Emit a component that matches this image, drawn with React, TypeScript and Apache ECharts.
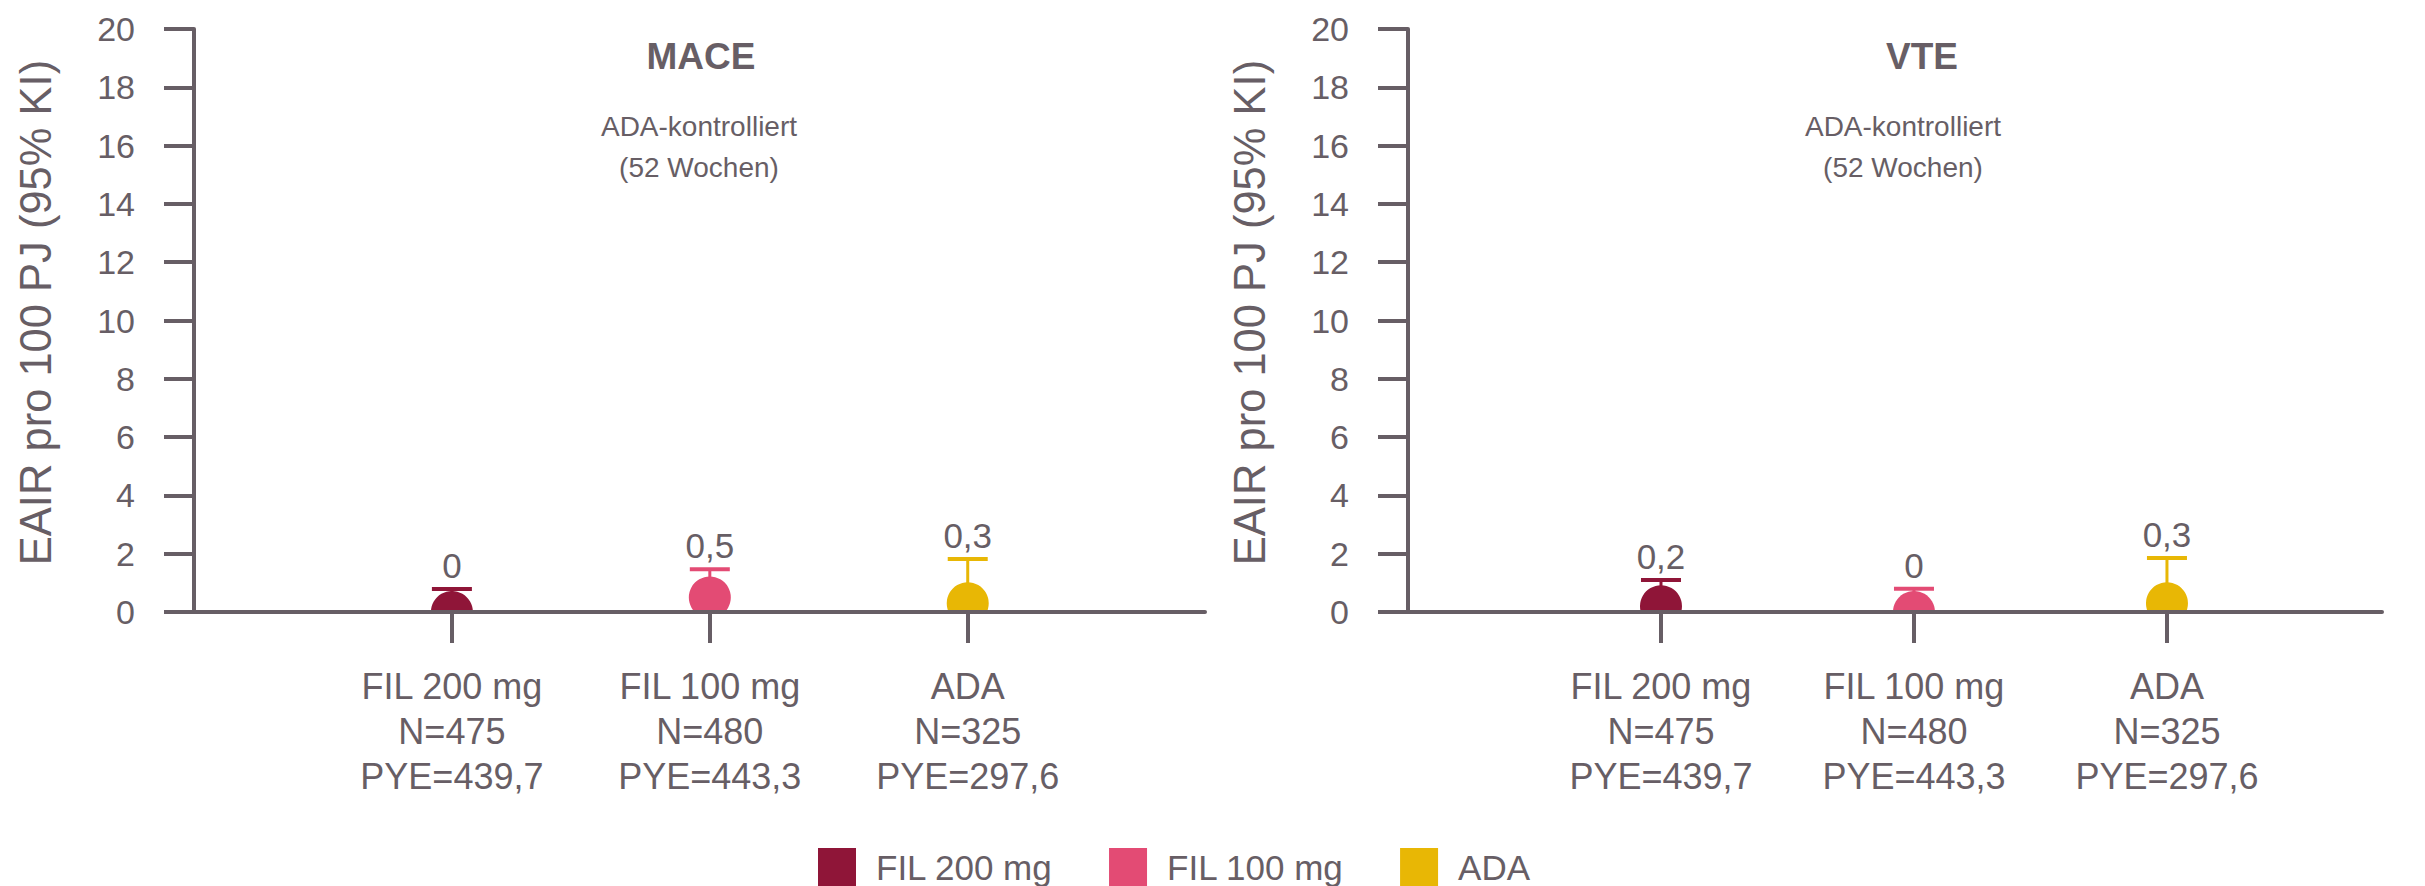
import React, { useEffect, useRef } from "react";
import * as echarts from "echarts";

// ---- data ----
const categories = ["FIL 200 mg", "FIL 100 mg", "ADA"];
const nValues = ["475", "480", "325"];
const pyeValues = ["439,7", "443,3", "297,6"];
const catPositions = [1, 2, 3];
const seriesColors = ["#8f1538", "#e34b74", "#e8b705"];

const maceRates = [0, 0.5, 0.3];
const maceUpper = [0.79, 1.47, 1.82];
const vteRates = [0.2, 0, 0.3];
const vteUpper = [1.1, 0.8, 1.85];

const yMin = 0;
const yMax = 20;
const yInterval = 2;

const panelTitles = ["MACE", "VTE"];
const panelSubtitle = "ADA-kontrolliert\n(52 Wochen)";
const yAxisTitle = "EAIR pro 100 PJ (95% KI)";

const GREY = "#675e65";
const FONT = "'Liberation Sans', Arial, sans-serif";

const fmt = (v: number) => String(v).replace(".", ",");

export default function App() {
  const ref = useRef<HTMLDivElement>(null);

  useEffect(() => {
    if (!ref.current) return;
    const chart = echarts.init(ref.current, null, { renderer: "svg" });

    const renderItem = (params: any, api: any) => {
      const x = api.value(0);
      const v = api.value(1);
      const hi = api.value(2);
      const c = api.coord([x, v]);
      const t = api.coord([x, hi]);
      const color = api.visual("color");
      return {
        type: "group",
        children: [
          {
            type: "line",
            shape: { x1: c[0], y1: c[1], x2: c[0], y2: t[1] },
            style: { stroke: color, lineWidth: 3 },
          },
          {
            type: "line",
            shape: { x1: c[0] - 20, y1: t[1], x2: c[0] + 20, y2: t[1] },
            style: { stroke: color, lineWidth: 4 },
          },
          {
            type: "circle",
            shape: { cx: c[0], cy: c[1], r: 21 },
            style: { fill: color },
          },
          {
            type: "text",
            x: c[0],
            y: t[1] - 6,
            style: {
              text: fmt(v),
              fill: GREY,
              fontSize: 35,
              fontFamily: FONT,
              align: "center",
              verticalAlign: "bottom",
            },
          },
        ],
      };
    };

    const panels = [
      { rates: maceRates, upper: maceUpper },
      { rates: vteRates, upper: vteUpper },
    ];

    const series: any[] = [];
    panels.forEach((p, pi) => {
      categories.forEach((name, i) => {
        series.push({
          type: "custom",
          name,
          xAxisIndex: pi,
          yAxisIndex: pi,
          clip: true,
          itemStyle: { color: seriesColors[i] },
          renderItem,
          data: [[catPositions[i], p.rates[i], p.upper[i]]],
        });
      });
    });

    const xMaxes = [3.92, 3.85];

    const xAxis = [0, 1].map((gi) => ({
      type: "value",
      gridIndex: gi,
      min: 0,
      max: xMaxes[gi],
      z: 3,
      splitLine: { show: false },
      axisLine: { show: true, lineStyle: { color: GREY, width: 4 } },
      axisTick: {
        show: true,
        length: 31,
        lineStyle: { color: GREY, width: 4 },
        customValues: catPositions,
      },
      axisLabel: {
        show: true,
        customValues: catPositions,
        margin: 52,
        color: GREY,
        fontSize: 36,
        lineHeight: 45,
        fontFamily: FONT,
        formatter: (val: number) => {
          const i = Math.round(val) - 1;
          return `${categories[i]}\nN=${nValues[i]}\nPYE=${pyeValues[i]}`;
        },
      },
    }));

    const yAxis = [0, 1].map((gi) => ({
      type: "value",
      gridIndex: gi,
      min: yMin,
      max: yMax,
      interval: yInterval,
      z: 3,
      name: yAxisTitle,
      nameLocation: "middle",
      nameRotate: 90,
      nameGap: 136,
      nameTextStyle: {
        color: GREY,
        fontSize: 43.5,
        fontFamily: FONT,
        padding: [0, 0, 0, 16],
      },
      splitLine: { show: false },
      axisLine: { show: true, lineStyle: { color: GREY, width: 4 } },
      axisTick: { show: true, length: 30, lineStyle: { color: GREY, width: 4 } },
      axisLabel: {
        margin: 59,
        color: GREY,
        fontSize: 34,
        fontFamily: FONT,
      },
    }));

    const titleX = [701, 1922];
    const subX = [699, 1903];
    const graphic: any[] = [];
    [0, 1].forEach((i) => {
      graphic.push({
        type: "text",
        x: titleX[i],
        y: 56,
        style: {
          text: panelTitles[i],
          fill: GREY,
          fontSize: 37,
          fontWeight: "bold",
          fontFamily: FONT,
          align: "center",
          verticalAlign: "middle",
        },
      });
      graphic.push({
        type: "text",
        x: subX[i],
        y: 147,
        style: {
          text: panelSubtitle,
          fill: GREY,
          fontSize: 28,
          lineHeight: 41,
          fontFamily: FONT,
          align: "center",
          verticalAlign: "middle",
        },
      });
    });

    chart.setOption({
      animation: false,
      color: seriesColors,
      grid: [
        { left: 194, top: 29, width: 1011, height: 583 },
        { left: 1408, top: 29, width: 974, height: 583 },
      ],
      xAxis,
      yAxis,
      legend: {
        data: categories,
        left: 813,
        top: 843,
        icon: "rect",
        itemWidth: 38,
        itemHeight: 38,
        itemGap: 56,
        textStyle: {
          color: GREY,
          fontSize: 35,
          lineHeight: 36,
          fontFamily: FONT,
          padding: [0, 0, 0, 15],
        },
      },
      graphic,
      series,
    });

    return () => {
      chart.dispose();
    };
  }, []);

  return (
    <div
      ref={ref}
      style={{ position: "absolute", left: 0, top: 0, width: 2425, height: 886 }}
    />
  );
}
